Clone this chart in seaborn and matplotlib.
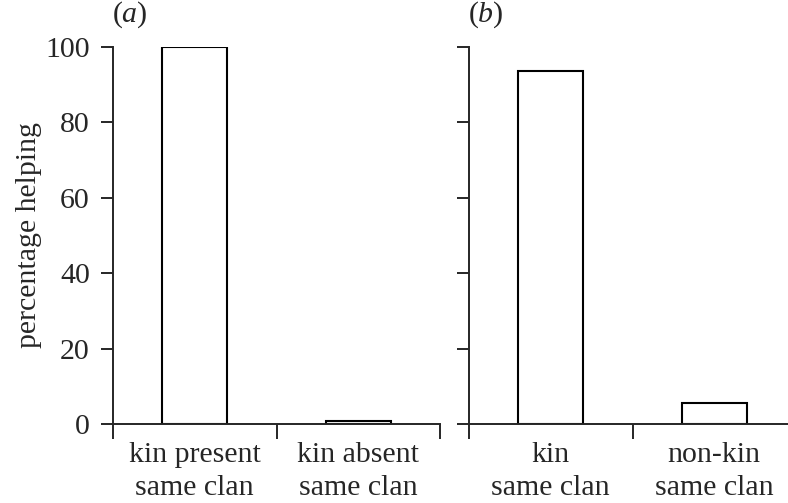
import matplotlib
matplotlib.use("Agg")
import matplotlib.pyplot as plt
import seaborn as sns
import pandas as pd
from matplotlib.ticker import FixedLocator

# panel (a)
cats_a = ["kin present\nsame clan", "kin absent\nsame clan"]
vals_a = [100, 0.9]
# panel (b)
cats_b = ["kin\nsame clan", "non-kin\nsame clan"]
vals_b = [93.7, 5.6]

yticks = [0, 20, 40, 60, 80, 100]

sns.set_style("ticks")
plt.rcParams['font.family'] = ['Liberation Serif', 'DejaVu Serif']
plt.rcParams['mathtext.fontset'] = 'custom'
plt.rcParams['mathtext.rm'] = 'Liberation Serif'
plt.rcParams['mathtext.it'] = 'Liberation Serif:italic'

fig = plt.figure(figsize=(7.88, 5.03), dpi=100)
ax_a = fig.add_axes([113 / 788, 79 / 503, 327 / 788, 377 / 503])
ax_b = fig.add_axes([469 / 788, 79 / 503, 327 / 788, 377 / 503])

panels = [(ax_a, cats_a, vals_a, "(" + r"$\mathit{a}$" + ")"),
          (ax_b, cats_b, vals_b, "(" + r"$\mathit{b}$" + ")")]

for ax, cats, vals, tag in panels:
    df = pd.DataFrame({"group": cats, "pct": vals})
    sns.barplot(data=df, x="group", y="pct", ax=ax, color="white",
                edgecolor="black", linewidth=1.5, width=0.4, saturation=1)
    ax.set_xlim(-0.5, 1.5)
    ax.set_ylim(0, 100)
    ax.set_yticks(yticks)
    ax.set_xlabel("")
    ax.set_ylabel("")
    ax.xaxis.set_minor_locator(FixedLocator([-0.5, 0.5, 1.5]))
    ax.tick_params(axis="x", which="major", length=0, pad=13, labelsize=21.5)
    ax.tick_params(axis="x", which="minor", length=11, width=1.4, direction="out")
    ax.tick_params(axis="y", length=8.6, width=1.4, pad=8, labelsize=21.5, direction="out")
    for lbl in ax.get_xticklabels():
        lbl.set_linespacing(1.35)
    for s in ["top", "right"]:
        ax.spines[s].set_visible(False)
    for s in ["left", "bottom"]:
        ax.spines[s].set_linewidth(1.4)
    ax.text(0.05, 1.085, tag, transform=ax.transAxes, ha="center", va="center",
            fontsize=21.5)

ax_b.set_yticklabels([])
ax_a.set_ylabel("percentage helping", fontsize=21.5)
ax_a.yaxis.set_label_coords(-0.217, 0.5)

fig.savefig("out.png", dpi=100)
